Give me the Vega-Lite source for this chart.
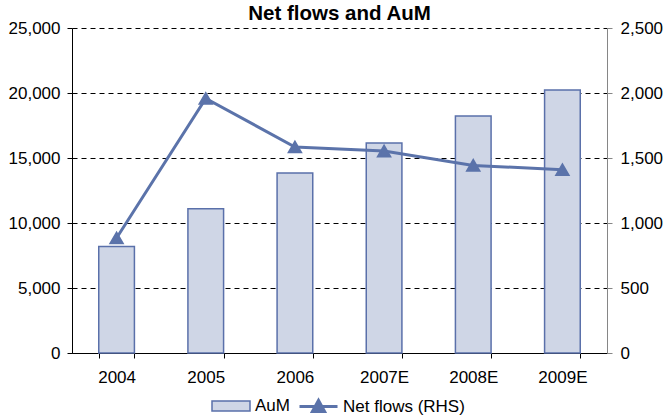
{
  "$schema": "https://vega.github.io/schema/vega-lite/v6.json",
  "autosize": "none",
  "width": 535,
  "height": 325,
  "padding": {"left": 72, "top": 28, "right": 56, "bottom": 67},
  "background": "white",
  "config": {
    "font": "Liberation Sans",
    "view": {"stroke": null},
    "axis": {"labelFont": "Liberation Sans", "labelFontSize": 17, "labelColor": "black", "titleFont": "Liberation Sans"}
  },
  "title": {"text": "Net flows and AuM", "fontSize": 20.5, "fontWeight": "bold", "font": "Liberation Sans", "color": "black", "anchor": "middle", "frame": "group", "baseline": "alphabetic", "offset": -2, "dy": 19},
  "data": {
    "values": [
      {"year": "2004", "aum": 8200, "flows": 885},
      {"year": "2005", "aum": 11100, "flows": 1958},
      {"year": "2006", "aum": 13850, "flows": 1585},
      {"year": "2007E", "aum": 16150, "flows": 1553},
      {"year": "2008E", "aum": 18230, "flows": 1443},
      {"year": "2009E", "aum": 20230, "flows": 1410}
    ]
  },
  "encoding": {
    "x": {
      "field": "year", "type": "nominal", "sort": null,
      "scale": {"paddingInner": 0.6, "paddingOuter": 0.3},
      "axis": {"title": null, "labelAngle": 0, "domainColor": "black", "tickColor": "black", "tickBand": "extent", "tickSize": 5, "labelPadding": 11, "grid": false}
    }
  },
  "layer": [
    {
      "mark": {"type": "bar", "stroke": "#5A70AA", "strokeWidth": 1.5},
      "encoding": {
        "y": {
          "field": "aum", "type": "quantitative",
          "scale": {"domain": [0, 25000], "nice": false},
          "axis": {"title": null, "values": [0, 5000, 10000, 15000, 20000, 25000], "format": ",.0f", "domainColor": "black", "tickColor": "black", "tickSize": 5, "labelPadding": 7, "grid": true, "gridColor": "black", "gridDash": [5, 4], "gridWidth": 1}
        },
        "fill": {
          "datum": "AuM",
          "scale": {"domain": ["AuM"], "range": ["#CFD6E6"]},
          "legend": {
            "title": null, "orient": "none", "legendX": 139, "legendY": 358, "direction": "horizontal", "padding": 0,
            "labelFontSize": 17, "labelFont": "Liberation Sans", "labelColor": "black", "labelOffset": 4,
            "symbolSize": 1444, "symbolType": "M-1,-0.26H1V0.26H-1Z",
            "symbolStrokeColor": "#5A70AA", "symbolStrokeWidth": 1.5, "symbolFillColor": "#CFD6E6"
          }
        }
      }
    },
    {
      "mark": {"type": "line", "strokeWidth": 3, "point": {"shape": "triangle-up", "size": 150, "filled": true, "fill": "#5B73AA"}},
      "encoding": {
        "y": {
          "field": "flows", "type": "quantitative",
          "scale": {"domain": [0, 2500], "nice": false},
          "axis": {"title": null, "orient": "right", "values": [0, 500, 1000, 1500, 2000, 2500], "format": ",.0f", "domainColor": "#868686", "tickColor": "#868686", "tickSize": 5, "labelPadding": 8, "grid": false}
        },
        "stroke": {
          "datum": "Net flows (RHS)",
          "scale": {"domain": ["Net flows (RHS)"], "range": ["#5B73AA"]},
          "legend": {
            "title": null, "orient": "none", "legendX": 226, "legendY": 358, "direction": "horizontal", "padding": 0,
            "labelFontSize": 17, "labelFont": "Liberation Sans", "labelColor": "black", "labelOffset": 4,
            "symbolSize": 1444, "symbolType": "M-1,0H1M-0.32,0.26L0,-0.32L0.32,0.26Z",
            "symbolStrokeWidth": 3,
            "encode": {"symbols": {"update": {"fill": {"value": "#5B73AA"}, "stroke": {"value": "#5B73AA"}}}}
          }
        }
      }
    }
  ],
  "resolve": {"scale": {"y": "independent"}}
}
